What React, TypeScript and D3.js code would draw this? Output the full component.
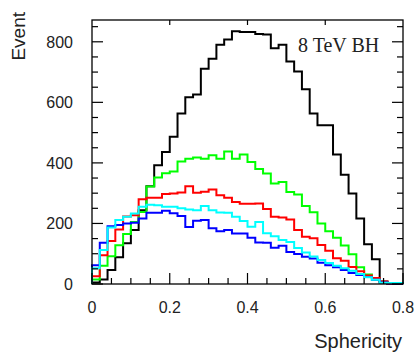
import React from "react";
import * as d3 from "d3";

const binEdgesMin = 0;
const binEdgesMax = 0.8;
const nBins = 40;

const blackSeries = [5, 15, 46, 88, 135, 178, 244, 323, 392, 436, 486, 563, 617, 626, 711, 744, 790, 808, 835, 832, 832, 826, 824, 779, 790, 735, 702, 643, 563, 524, 524, 428, 361, 299, 216, 131, 82, 8, 0, 0];
const greenSeries = [15, 60, 92, 128, 165, 205, 238, 322, 352, 366, 372, 405, 414, 418, 414, 425, 414, 438, 414, 428, 403, 380, 365, 332, 337, 304, 296, 258, 237, 200, 174, 153, 127, 98, 55, 31, 14, 5, 0, 0];
const redSeries = [26, 95, 142, 180, 223, 227, 280, 285, 285, 297, 299, 302, 323, 301, 305, 312, 293, 285, 271, 265, 265, 266, 248, 222, 220, 213, 178, 156, 151, 129, 110, 85, 77, 56, 42, 28, 20, 8, 0, 0];
const blueSeries = [62, 136, 191, 195, 200, 202, 216, 235, 235, 242, 234, 225, 188, 209, 211, 184, 174, 178, 167, 167, 153, 137, 136, 120, 126, 106, 99, 90, 84, 70, 62, 55, 46, 36, 30, 23, 14, 5, 2, 1];
const cyanSeries = [52, 112, 187, 211, 222, 233, 255, 262, 260, 255, 255, 250, 246, 244, 258, 244, 236, 235, 222, 208, 189, 205, 168, 158, 145, 139, 119, 104, 91, 79, 69, 60, 52, 44, 33, 22, 14, 4, 3, 3];

const yTickLabels = [0, 200, 400, 600, 800];
const xTickLabels = [0, 0.2, 0.4, 0.6, 0.8];

const series = [
  { name: "black", values: blackSeries, color: "#000000" },
  { name: "green", values: greenSeries, color: "#00ff00" },
  { name: "red", values: redSeries, color: "#ff0000" },
  { name: "blue", values: blueSeries, color: "#0000ff" },
  { name: "cyan", values: cyanSeries, color: "#00ffff" },
];

const W = 416;
const H = 353;
const left = 92;
const right = 403;
const top = 20;
const bottom = 284;

export default function App() {
  const x = d3.scaleLinear().domain([binEdgesMin, binEdgesMax]).range([left, right]);
  const y = d3.scaleLinear().domain([0, 872]).range([bottom, top]);
  const bw = (binEdgesMax - binEdgesMin) / nBins;

  const histPath = (vals: number[]) => {
    const p = d3.path();
    p.moveTo(x(0), y(0));
    vals.forEach((v, i) => {
      const x0 = x(binEdgesMin + i * bw);
      const x1 = x(binEdgesMin + (i + 1) * bw);
      p.lineTo(x0, y(v));
      p.lineTo(x1, y(v));
    });
    p.lineTo(x(binEdgesMax), y(0));
    return p.toString();
  };

  const yMinor = d3.range(0, 872, 50);
  const xMinor = d3.range(0, 0.8001, 0.05);

  return (
    <svg width={W} height={H} style={{ position: "absolute", left: 0, top: 0, background: "#fff" }}>
      <rect x={0} y={0} width={W} height={H} fill="#fff" />
      {series.map((s) => (
        <path key={s.name} d={histPath(s.values)} fill="none" stroke={s.color} strokeWidth={2} />
      ))}
      <rect x={left} y={top} width={right - left} height={bottom - top} fill="none" stroke="#000" strokeWidth={1.3} />
      {yMinor.map((v) => {
        const major = v % 200 === 0;
        const len = major ? 11 : 6;
        return (
          <g key={"y" + v}>
            <line x1={left} x2={left + len} y1={y(v)} y2={y(v)} stroke="#000" strokeWidth={1.2} />
            <line x1={right} x2={right - len} y1={y(v)} y2={y(v)} stroke="#000" strokeWidth={1.2} />
          </g>
        );
      })}
      {xMinor.map((v, i) => {
        const major = i % 4 === 0;
        const len = major ? 11 : 6;
        return (
          <g key={"x" + i}>
            <line x1={x(v)} x2={x(v)} y1={bottom} y2={bottom - len} stroke="#000" strokeWidth={1.2} />
            {major && v > 0.01 && v < 0.79 ? (
              <line x1={x(v)} x2={x(v)} y1={top} y2={top + 5} stroke="#000" strokeWidth={1.2} />
            ) : null}
          </g>
        );
      })}
      {yTickLabels.map((v) => (
        <text key={"yl" + v} x={73} y={y(v)} dy="0.36em" textAnchor="end" fontFamily="Liberation Sans, Arial, sans-serif" fontSize={16} fill="#222">
          {v}
        </text>
      ))}
      {xTickLabels.map((v) => (
        <text key={"xl" + v} x={x(v)} y={313} textAnchor="middle" fontFamily="Liberation Sans, Arial, sans-serif" fontSize={16} fill="#222">
          {v}
        </text>
      ))}
      <text x={402} y={348} textAnchor="end" fontFamily="Liberation Sans, Arial, sans-serif" fontSize={20} fill="#222">
        Sphericity
      </text>
      <text transform="translate(25,12) rotate(-90)" textAnchor="end" fontFamily="Liberation Sans, Arial, sans-serif" fontSize={19} fill="#222">
        Event
      </text>
      <text x={298} y={51.5} fontFamily="Liberation Serif, Times New Roman, serif" fontSize={20} fill="#222">
        8 TeV BH
      </text>
    </svg>
  );
}
